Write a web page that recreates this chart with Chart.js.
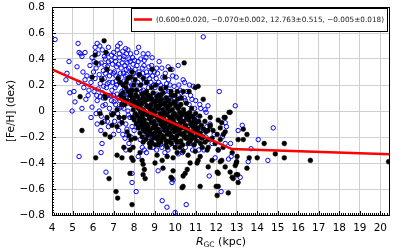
<!DOCTYPE html>
<html>
<head>
<meta charset="utf-8">
<script src="https://cdn.jsdelivr.net/npm/chart.js@4/dist/chart.umd.min.js"></script>
<style>
html,body{margin:0;padding:0;background:#fff;}
#wrap{width:399px;height:251px;position:relative;}
</style>
</head>
<body>
<div id="wrap"><canvas id="c" width="399" height="251"></canvas></div>
<script>
// ---- data ----
const xTicks = [4,5,6,7,8,9,10,11,12,13,14,15,16,17,18,19,20];
const yTicks = [-0.8,-0.6,-0.4,-0.2,0,0.2,0.4,0.6,0.8];
const legendLabel = "(0.600\u00b10.020, \u22120.070\u00b10.002, 12.763\u00b10.515, \u22120.005\u00b10.018)";
const fitX = [4, 12.763, 20.47];
const fitY = [0.320, -0.293, -0.333];

const bluePts = [
[4.15,0.55],[4.68,0.24],[4.73,0.29],[4.83,0.38],[4.87,0.14],[4.98,0.00],
[5.07,0.15],[5.12,0.07],[5.22,0.34],[5.27,0.52],[5.32,0.45],[5.40,0.44],[5.46,0.42],[5.51,0.30],[5.61,0.24],[5.61,0.45],[5.80,0.16],[5.76,0.12],[5.46,0.02],[5.95,0.03],[5.90,-0.05],[5.32,-0.35],[5.70,0.27],[5.85,0.35],[5.55,0.18],[5.90,0.22],[5.95,0.41],[5.65,0.09],[5.30,0.22],
[6.10,0.49],[6.20,0.52],[6.05,0.38],[6.15,0.33],[6.25,0.44],[6.30,0.28],[6.35,0.21],[6.40,0.37],[6.45,0.47],[6.50,0.31],[6.55,0.25],[6.60,0.40],[6.65,0.18],[6.70,0.34],[6.75,0.49],[6.80,0.27],[6.85,0.12],[6.90,0.43],[6.95,0.22],[6.05,0.15],[6.20,0.08],[6.30,0.00],[6.40,-0.04],[6.50,0.10],[6.60,0.05],[6.70,-0.08],[6.80,0.02],[6.90,-0.02],[6.38,-0.15],[6.44,-0.25],[6.39,-0.32],[6.63,-0.47],[6.75,-0.12],[6.10,0.25],[6.25,0.17],[6.45,0.14],[6.55,0.42],[6.75,0.38],[6.85,0.30],[6.95,0.36],[6.15,-0.02],[6.35,0.11],[6.60,0.29],[6.90,0.08],[6.70,0.21],
[7.00,0.45],[7.05,0.30],[7.10,0.38],[7.15,0.20],[7.20,0.50],[7.25,0.26],[7.30,0.41],[7.32,0.52],[7.37,0.33],[7.40,0.15],[7.45,0.46],[7.50,0.23],[7.51,0.42],[7.55,0.35],[7.60,0.10],[7.65,0.28],[7.70,0.47],[7.75,0.19],[7.80,0.38],[7.85,0.31],[7.90,0.05],[7.95,0.24],[7.00,0.12],[7.10,0.05],[7.20,-0.02],[7.30,0.08],[7.40,-0.06],[7.50,0.02],[7.60,-0.10],[7.70,0.00],[7.80,-0.05],[7.90,-0.12],[7.05,-0.08],[7.25,-0.15],[7.45,-0.18],[7.56,-0.21],[7.65,-0.14],[7.85,-0.20],[7.90,-0.48],[7.90,-0.55],[7.15,0.34],[7.35,0.22],[7.55,0.14],[7.75,0.40],[7.95,0.36],[7.12,0.27],[7.42,0.37],[7.62,0.32],[7.82,0.12],[7.28,0.44],[7.68,0.06],[7.88,0.20],[7.08,0.18],[7.48,0.29],[7.58,0.48],[7.78,0.26],[7.98,0.10],[7.22,0.10],[7.38,0.03],[7.72,-0.03],[7.18,0.47],[7.66,0.37],
[8.05,0.32],[8.10,0.20],[8.20,0.38],[8.24,0.30],[8.15,0.10],[8.30,0.27],[8.35,0.15],[8.44,0.44],[8.40,0.33],[8.50,0.22],[8.55,0.05],[8.60,0.30],[8.68,0.44],[8.70,0.18],[8.75,0.25],[8.80,0.10],[8.85,0.35],[8.90,0.02],[8.95,0.20],[8.05,-0.03],[8.15,-0.10],[8.25,-0.06],[8.35,-0.15],[8.45,-0.02],[8.55,-0.20],[8.65,-0.08],[8.75,-0.25],[8.85,-0.12],[8.95,-0.18],[8.10,-0.62],[8.40,-0.28],[8.60,-0.32],[8.25,0.28],[8.50,0.39],[8.65,0.12],[8.80,0.30],[8.90,0.27],[8.12,0.45],[8.30,0.05],[8.45,0.16],[8.62,0.22],[8.78,0.04],[8.92,0.12],
[9.10,0.33],[9.12,0.13],[9.20,0.22],[9.30,0.05],[9.40,0.26],[9.50,0.15],[9.60,0.00],[9.66,0.34],[9.70,0.15],[9.80,0.08],[9.85,0.32],[9.88,0.27],[9.90,-0.05],[9.05,-0.10],[9.15,-0.20],[9.25,-0.15],[9.35,-0.28],[9.45,-0.22],[9.55,-0.12],[9.65,-0.30],[9.75,-0.18],[9.95,-0.25],[9.17,-0.46],[9.37,-0.69],[9.60,-0.74],[9.85,-0.55],[9.90,-0.53],[9.00,0.08],[9.30,-0.05],[9.55,0.10],[9.75,0.20],[9.20,0.02],[9.45,0.18],[9.62,-0.08],[9.88,0.12],[9.08,0.25],
[10.00,-0.78],[10.15,0.35],[10.24,0.16],[10.39,0.24],[10.46,0.22],[10.54,-0.72],[10.68,0.05],[10.88,0.19],[10.10,0.05],[10.20,-0.10],[10.30,-0.02],[10.40,-0.18],[10.50,0.08],[10.60,-0.12],[10.70,-0.25],[10.80,-0.06],[10.90,-0.15],[10.05,-0.28],[10.35,-0.32],[10.75,0.12],[10.95,0.02],[10.25,0.10],[10.55,-0.05],[10.85,-0.30],
[11.37,0.57],[11.46,0.01],[11.51,-0.01],[11.66,-0.50],[11.10,-0.08],[11.30,-0.15],[11.50,-0.20],[11.70,-0.10],[11.90,-0.18],[11.20,0.05],[11.80,-0.25],[11.15,-0.30],[11.60,0.04],[11.95,-0.36],
[12.15,0.15],[12.24,-0.62],[12.93,0.04],[13.07,-0.15],[13.27,-0.11],[13.17,-0.51],[13.56,-0.39],[13.70,-0.29],[14.05,-0.22],[14.52,-0.38],[14.78,-0.13],[12.30,-0.20],[12.50,-0.12],[12.10,-0.30],[12.70,-0.25],[12.44,-0.25],[12.44,-0.09],[12.73,-0.35],[12.60,-0.37],
[6.02,0.30],[6.12,0.45],[6.18,0.12],[6.28,0.36],[6.33,0.50],[6.42,0.25],[6.48,0.04],[6.52,0.19],[6.58,0.35],[6.68,0.44],[6.72,0.12],[6.78,0.22],[6.88,0.39],[6.92,0.16],[6.98,0.29],[7.02,0.07],[7.07,0.41],[7.13,0.23],[7.17,0.13],[7.23,0.36],[7.27,0.02],[7.33,0.29],[7.43,0.09],[7.47,0.40],[7.53,0.17],[7.57,0.27],[7.63,0.44],[7.67,0.13],[7.73,0.33],[7.77,0.07],[7.83,0.44],[7.87,0.16],[7.93,0.41],[7.97,0.29],[8.02,0.39],[8.08,0.27],[8.14,0.35],[8.18,0.22],[8.22,0.49],[8.28,0.17],[8.32,0.40],[8.38,0.09],[8.42,0.29],[8.48,0.35],[8.52,0.12],[8.58,0.41],[8.64,0.27],[8.72,0.34],[8.82,0.22],[8.88,0.41],[8.98,0.30],[9.02,0.18],[9.14,0.29],[9.22,0.38],[9.28,0.20],[9.35,0.33],[9.42,0.10],[9.52,0.29],[9.58,0.21],[9.68,0.24],[9.78,0.10],[9.95,0.19],[10.05,0.26],[10.18,0.20],[10.30,0.14],[10.45,0.10],[10.58,0.15],[10.70,0.20],[10.82,0.09],[11.00,0.08],[11.25,0.02],[10.95,-0.05],
[8.30,-0.22],[8.50,-0.30],[8.70,-0.20],[8.92,-0.28],[9.10,-0.30],[9.28,-0.26],[9.50,-0.32],[9.72,-0.26],[10.15,-0.33],[10.50,-0.28],[10.90,-0.26],[11.10,-0.22],[11.40,-0.30],[11.55,-0.12],[7.00,-0.18],[7.30,-0.10],[7.60,-0.30],[7.75,-0.25],[8.00,-0.15],[8.20,-0.35],[6.55,-0.08],[6.20,-0.10]
];

const blackPts = [
[5.37,0.11],[5.46,-0.15],[6.13,-0.36],[6.54,0.54],[6.63,0.45],[6.10,0.43],[6.78,-0.52],[7.12,-0.62],[7.20,-0.67],[7.17,-0.34],[7.41,-0.36],[7.90,-0.72],[7.80,-0.48],[7.88,-0.36],[7.95,-0.38],[7.50,-0.28],[7.90,0.30],[8.88,0.32],[9.76,0.32],[9.50,0.26],[10.44,0.37],[11.12,0.19],[10.98,0.18],[10.68,0.15],[11.37,0.09],[12.68,-0.01],[11.71,-0.05],[12.44,-0.05],[10.10,0.15],[10.39,0.15],
[8.44,-0.49],[8.50,-0.45],[8.54,-0.52],[9.80,-0.51],[10.34,-0.59],[11.22,-0.58],[12.00,-0.58],[12.59,-0.63],[12.05,-0.65],[12.10,-0.58],[12.98,-0.49],[13.05,-0.49],[12.83,-0.52],[12.68,-0.47],[12.93,-0.42],[13.00,-0.39],[13.07,-0.55],[12.78,-0.51],[12.10,-0.48],[12.20,-0.39],[12.27,-0.38],[12.98,-0.40],[13.50,-0.44],[13.32,-0.14],[13.50,-0.18],[13.32,-0.22],[13.07,-0.22],[13.61,-0.36],[14.00,-0.36],[14.34,-0.25],[14.88,-0.33],[15.32,-0.25],[15.32,-0.36],[16.59,-0.38],[20.40,-0.39],
[7.80,-0.30],[7.85,-0.22],[6.59,-0.18],[6.83,-0.20],[6.44,-0.09],[6.93,-0.11],[7.17,-0.12],[7.41,-0.09],[7.51,-0.05],[7.66,-0.16],[7.75,-0.19],[7.27,-0.05],[6.93,-0.03],
[7.95,-0.28],[8.39,-0.38],[8.44,-0.41],[8.78,-0.28],[9.02,-0.40],[9.41,-0.44],[9.90,-0.46],[9.85,-0.52],[10.39,-0.58],[10.39,-0.50],[10.49,-0.48],[10.59,-0.45],[11.07,-0.40],[11.12,-0.38],[11.22,-0.35],[10.73,-0.40],[9.90,-0.36],[9.61,-0.35],[9.37,-0.38],[9.12,-0.34],[10.10,-0.32],[10.39,-0.31],[10.63,-0.34],[10.98,-0.31],[11.32,-0.28],[11.46,-0.24],[11.56,-0.30],[8.29,-0.32],[8.05,-0.21],[8.44,-0.24],[8.88,-0.25],[9.17,-0.26],[9.61,-0.28],[10.00,-0.28],[10.24,-0.28],
[11.71,-0.11],[11.85,-0.15],[11.60,-0.15],[12.05,-0.18],[11.80,-0.21],[12.20,-0.22],[12.35,-0.18],[12.44,-0.16],[12.63,-0.01],[12.20,-0.13],[11.95,-0.25],[12.34,-0.28],[11.61,-0.28],[12.10,-0.30],[11.80,-0.38],[12.44,-0.43],[11.61,-0.43],[12.05,-0.47],[12.78,-0.32],[13.02,-0.35],[12.10,-0.07],[12.27,-0.09],[12.39,-0.05],
[6.15,0.37],[5.95,0.26],[7.22,0.25],[7.46,0.20],[6.44,0.24],[6.68,0.32],[6.59,0.12],[7.17,0.01],[6.68,-0.05],[7.66,0.08],[7.90,0.16],[6.34,-0.02],
[7.30,0.22],[7.50,0.10],[7.60,0.18],[7.40,0.05],[7.70,0.25],[7.80,0.12],[7.90,0.08],[6.60,0.10],[7.00,-0.02],
[7.45,0.14],[7.62,0.22],[7.83,0.26],[8.05,0.24],[8.32,0.20],[7.55,0.05],[7.72,0.15],[7.98,0.20],[8.25,0.28],[8.45,0.25],[7.35,0.12],[8.60,0.22],[8.85,0.18],[9.05,0.20],[9.30,0.17],[9.55,0.18],[9.80,0.15],[10.00,0.12],[10.30,0.10],[10.55,0.06],[10.80,0.02],[11.00,-0.02],[11.20,-0.04],[11.45,-0.08],[11.70,-0.12],
[7.85,0.14],[8.12,0.16],[8.38,0.13],[8.61,0.15],[8.93,0.14],[9.18,0.12],[9.42,0.14],
[7.93,0.10],[8.17,0.11],[8.44,0.10],[8.69,0.12],[8.87,0.09],[9.11,0.11],[9.33,0.09],[9.58,0.10],[9.81,0.12],
[8.03,0.07],[8.26,0.08],[8.51,0.07],[8.77,0.09],[8.99,0.07],[9.24,0.08],[9.47,0.06],[9.69,0.08],[9.94,0.07],[10.12,0.09],
[7.88,0.05],[8.13,0.04],[8.37,0.06],[8.62,0.04],[8.84,0.05],[9.07,0.04],[9.29,0.05],[9.53,0.04],[9.78,0.05],[10.02,0.04],[10.28,0.05],
[7.96,0.01],[8.21,0.02],[8.46,0.01],[8.70,0.03],[8.93,0.01],[9.16,0.02],[9.39,0.01],[9.64,0.02],[9.87,0.01],[10.14,0.02],[10.41,0.01],
[8.06,-0.02],[8.31,-0.01],[8.55,-0.02],[8.79,0.00],[9.02,-0.01],[9.26,-0.02],[9.50,-0.01],[9.73,0.00],[9.97,-0.02],[10.22,-0.01],[10.48,-0.02],[10.71,-0.01],
[7.92,-0.05],[8.16,-0.04],[8.41,-0.05],[8.65,-0.03],[8.89,-0.04],[9.13,-0.05],[9.36,-0.04],[9.61,-0.03],[9.84,-0.05],[10.08,-0.04],[10.33,-0.03],[10.57,-0.05],[10.83,-0.04],
[8.01,-0.07],[8.25,-0.08],[8.50,-0.07],[8.74,-0.06],[8.97,-0.08],[9.21,-0.07],[9.45,-0.06],[9.68,-0.08],[9.92,-0.07],[10.17,-0.06],[10.42,-0.08],[10.66,-0.07],[10.92,-0.06],[11.15,-0.08],
[8.11,-0.10],[8.35,-0.11],[8.59,-0.10],[8.83,-0.09],[9.06,-0.11],[9.30,-0.10],[9.54,-0.09],[9.77,-0.11],[10.01,-0.10],[10.26,-0.09],[10.51,-0.11],[10.76,-0.10],[11.02,-0.09],[11.28,-0.11],
[8.20,-0.13],[8.44,-0.14],[8.68,-0.12],[8.92,-0.13],[9.16,-0.14],[9.39,-0.12],[9.63,-0.13],[9.86,-0.14],[10.11,-0.12],[10.35,-0.13],[10.60,-0.14],[10.85,-0.12],[11.12,-0.13],[11.38,-0.14],
[8.29,-0.17],[8.54,-0.16],[8.78,-0.15],[9.01,-0.17],[9.24,-0.16],[9.48,-0.15],[9.72,-0.17],[9.96,-0.16],[10.20,-0.15],[10.45,-0.17],[10.69,-0.16],[10.95,-0.15],[11.22,-0.17],[11.50,-0.16],
[8.40,-0.20],[8.66,-0.19],[8.90,-0.18],[9.14,-0.20],[9.38,-0.19],[9.61,-0.18],[9.85,-0.20],[10.09,-0.19],[10.34,-0.18],[10.59,-0.20],[10.83,-0.19],[11.09,-0.18],[11.36,-0.20],
[8.58,-0.22],[8.84,-0.23],[9.08,-0.21],[9.33,-0.22],[9.57,-0.23],[9.81,-0.21],[10.04,-0.22],[10.28,-0.23],[10.53,-0.21],[10.78,-0.22],[11.04,-0.23],[11.30,-0.21],[11.62,-0.22],
[8.76,-0.25],[9.04,-0.26],[9.29,-0.24],[9.55,-0.26],[9.82,-0.25],[10.09,-0.24],[10.37,-0.26],[10.64,-0.25],[10.93,-0.26],[11.24,-0.25],
[8.08,0.125],[8.50,0.135],[8.80,0.115],[9.30,0.125],[8.15,0.065],[8.60,0.085],[9.10,0.075],[9.60,0.075],[10.00,0.06],[8.30,0.035],[8.75,0.025],[9.20,0.035],[9.70,0.04],[10.20,0.035],[8.40,-0.025],[8.95,-0.02],[9.40,-0.025],[9.90,-0.03],[10.35,-0.02],[10.60,-0.025],[8.30,-0.055],[8.80,-0.05],[9.25,-0.055],[9.75,-0.05],[10.25,-0.055],[10.70,-0.05],[8.40,-0.085],[8.90,-0.09],[9.40,-0.085],[9.90,-0.09],[10.40,-0.085],[10.85,-0.09],[8.55,-0.115],[9.00,-0.12],[9.50,-0.115],[10.00,-0.125],[10.50,-0.12],[10.95,-0.115],[8.60,-0.145],[9.10,-0.15],[9.60,-0.145],[10.10,-0.15],[10.55,-0.145],[11.05,-0.15],[8.75,-0.175],[9.25,-0.175],[9.75,-0.18],[10.25,-0.175],[10.75,-0.18],[11.20,-0.19],[8.95,-0.205],[9.45,-0.205],[9.95,-0.21],[10.45,-0.20],[10.95,-0.205],[9.20,-0.235],[9.70,-0.235],[10.20,-0.24],[10.70,-0.235]
];

// ---- helpers ----
const toXY = a => a.map(p => ({x: p[0], y: p[1]}));
const fitData = fitX.map((x, i) => ({x, y: fitY[i]}));
const FONT = "'DejaVu Sans', sans-serif";

const framePlugin = {
  id: 'frame',
  afterDraw(chart) {
    const {ctx, chartArea: a, scales} = chart;
    const xs = scales.x, ys = scales.y;
    ctx.save();
    ctx.strokeStyle = '#000';
    ctx.lineWidth = 1;
    ctx.beginPath();
    for (let i = 40; i <= 204; i++) {
      const v = i / 10;
      if (v > xs.max) break;
      const px = Math.round(xs.getPixelForValue(v)) + 0.5;
      const len = (i % 10 === 0) ? 4 : 2;
      ctx.moveTo(px, a.bottom); ctx.lineTo(px, a.bottom - len);
    }
    for (let i = -40; i <= 40; i++) {
      const v = i / 50;
      const py = Math.round(ys.getPixelForValue(v)) + 0.5;
      const len = (i % 10 === 0) ? 4 : 2;
      ctx.moveTo(a.left, py); ctx.lineTo(a.left + len, py);
    }
    ctx.stroke();
    ctx.strokeRect(Math.round(a.left) + 0.5, Math.round(a.top) + 0.5, Math.round(a.right - a.left) - 1, Math.round(a.bottom - a.top));
    // legend box
    const lx = 131, ly = 8, lw = 256, lh = 23;
    ctx.fillStyle = '#fff';
    ctx.fillRect(lx, ly, lw, lh);
    ctx.strokeStyle = '#000';
    ctx.strokeRect(lx + 0.5, ly + 0.5, lw, lh);
    ctx.strokeStyle = '#ff0000';
    ctx.lineWidth = 2.5;
    ctx.beginPath(); ctx.moveTo(134, 19.5); ctx.lineTo(152, 19.5); ctx.stroke();
    ctx.fillStyle = '#222';
    ctx.font = "7.3px " + FONT;
    ctx.textBaseline = 'middle';
    ctx.textAlign = 'left';
    ctx.fillText(legendLabel, 156, 20);
    // x title
    ctx.fillStyle = '#000';
    ctx.textBaseline = 'alphabetic';
    const f1 = "italic 11px " + FONT, f2 = "7.5px " + FONT, f3 = "11px " + FONT;
    ctx.font = f1; const w1 = ctx.measureText('R').width;
    ctx.font = f2; const w2 = ctx.measureText('GC').width;
    ctx.font = f3; const w3 = ctx.measureText(' (kpc)').width;
    const cx = (a.left + a.right) / 2;
    let x0 = cx - (w1 + w2 + w3) / 2;
    const by = 245;
    ctx.font = f1; ctx.fillText('R', x0, by); x0 += w1;
    ctx.font = f2; ctx.fillText('GC', x0, by + 2); x0 += w2;
    ctx.font = f3; ctx.fillText(' (kpc)', x0, by);
    // y title
    ctx.save();
    ctx.translate(14, (a.top + a.bottom) / 2);
    ctx.rotate(-Math.PI / 2);
    ctx.textAlign = 'center';
    ctx.font = "10.5px " + FONT;
    ctx.fillText('[Fe/H] (dex)', 0, 0);
    ctx.restore();
    ctx.restore();
  }
};

new Chart(document.getElementById('c'), {
  type: 'scatter',
  data: {
    datasets: [
      {
        type: 'line', label: 'fit', data: fitData,
        borderColor: '#ff0000', borderWidth: 2.5, pointRadius: 0,
        fill: false, tension: 0, order: 0
      },
      {
        label: 'black', data: toXY(blackPts),
        pointRadius: 2.4, pointBackgroundColor: '#000', pointBorderColor: '#000',
        pointBorderWidth: 0.5, order: 1
      },
      {
        label: 'blue', data: toXY(bluePts),
        pointRadius: 2.2, pointBackgroundColor: 'rgba(0,0,0,0)', pointBorderColor: '#0000ff',
        pointBorderWidth: 1, order: 2
      }
    ]
  },
  options: {
    responsive: false,
    animation: false,
    layout: {padding: {top: 7, right: 9, left: 0, bottom: 0}},
    plugins: {legend: {display: false}, tooltip: {enabled: false}},
    scales: {
      x: {
        type: 'linear', min: 4, max: 20.47,
        afterBuildTicks: s => { s.ticks = xTicks.map(v => ({value: v})); },
        afterFit: s => { s.height = 36; s.paddingLeft = 0; s.paddingRight = 0; },
        ticks: {
          color: '#000', padding: 7, maxRotation: 0, autoSkip: false,
          font: {family: FONT, size: 10.5},
          callback: v => String(v)
        },
        grid: {color: '#cfcfcf', lineWidth: 1, drawTicks: false},
        border: {display: false}
      },
      y: {
        type: 'linear', min: -0.8, max: 0.8,
        afterBuildTicks: s => { s.ticks = yTicks.map(v => ({value: v})); },
        afterFit: s => { s.width = 52; s.paddingTop = 0; s.paddingBottom = 0; },
        ticks: {
          color: '#000', padding: 7, autoSkip: false,
          font: {family: FONT, size: 10.5},
          callback: v => Math.abs(v) < 1e-9 ? '0' : (v < 0 ? '\u2212' : '') + Math.abs(v).toFixed(1)
        },
        grid: {color: '#cfcfcf', lineWidth: 1, drawTicks: false},
        border: {display: false}
      }
    }
  },
  plugins: [framePlugin]
});
</script>
</body>
</html>
